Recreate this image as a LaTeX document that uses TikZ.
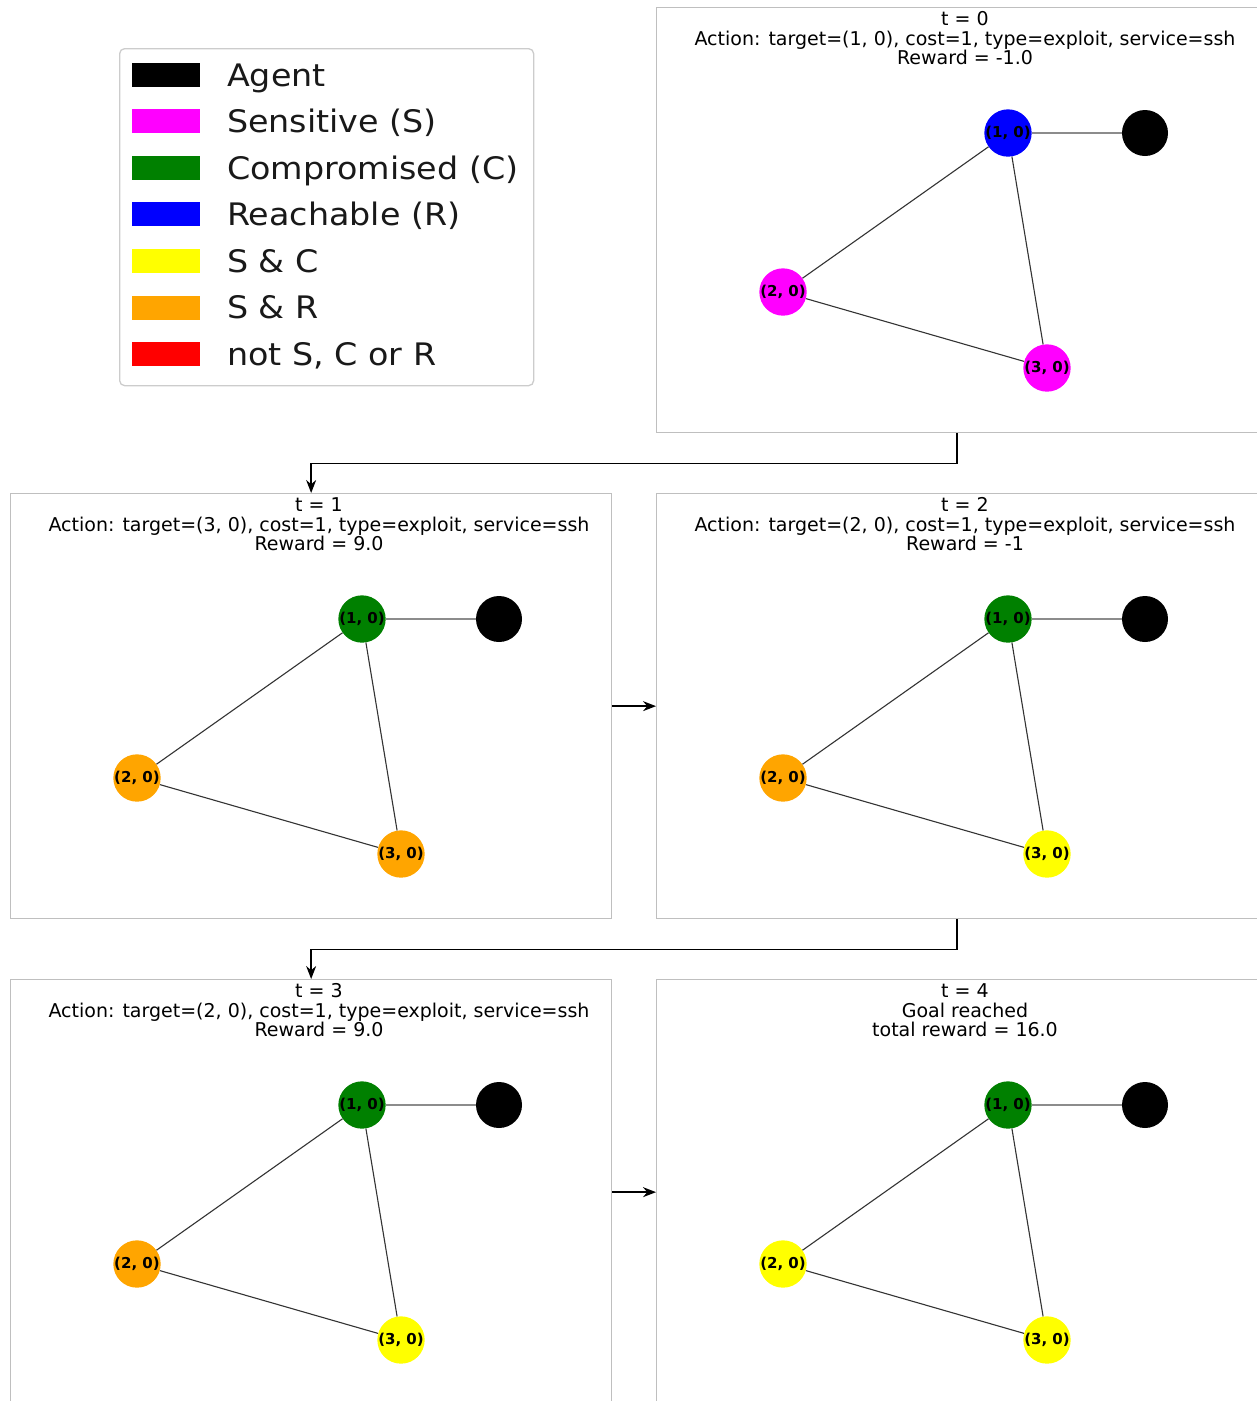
\documentclass[tikz,border=0pt]{standalone}
\usepackage{fontspec}
\setmainfont{DejaVu Sans}
\usetikzlibrary{arrows.meta}
\definecolor{mplgreen}{HTML}{008000}
\definecolor{mplorange}{HTML}{FFA500}
\definecolor{mplblue}{HTML}{0000FF}
\definecolor{mplmagenta}{HTML}{FF00FF}
\definecolor{mplyellow}{HTML}{FFFF00}
\definecolor{mplred}{HTML}{FF0000}
\tikzset{
  panelbox/.style={draw=black!25, line width=1.3pt, minimum width=601pt, minimum height=425pt, anchor=north west, inner sep=0pt},
  ttl/.style={anchor=base, inner sep=0pt, font=\fontsize{19}{19.5}\selectfont},
  host/.style={circle, draw=none, minimum size=46pt, inner sep=0pt, font=\fontsize{15}{15}\selectfont\bfseries, text=black},
  agentnode/.style={circle, fill=black, minimum size=46pt, inner sep=0pt},
  agentedge/.style={draw=black!45, line width=1.4pt},
  netedge/.style={draw=black!80, line width=1.1pt},
  flow/.style={draw=black, line width=1.4pt, -{Stealth[length=13pt,width=10pt]}},
  swatch/.style={rectangle, minimum width=68pt, minimum height=24pt, inner sep=0pt, draw=none},
  legtext/.style={anchor=base west, inner sep=0pt, font=\fontsize{31}{31}\selectfont, text=black!90},
}
\newcommand{\drawpanel}[9]{%
  \node[panelbox] (#1) at (#2,#3) {};
  \begin{scope}[shift={(#2,#3)}]
    \node[ttl] (#1a) at (309,18) {#4};
    \node[ttl] (#1b) at (309,38) {#5};
    \node[ttl] (#1c) at (309,57) {#6};
    \node[host, fill=#7] (#1h1) at (352,126) {(1, 0)};
    \node[agentnode] (#1ag) at (489,126) {};
    \node[host, fill=#8] (#1h2) at (127,285) {(2, 0)};
    \node[host, fill=#9] (#1h3) at (391,361) {(3, 0)};
    \draw[agentedge] (#1h1) -- (#1ag);
    \draw[netedge] (#1h1) -- (#1h2);
    \draw[netedge] (#1h1) -- (#1h3);
    \draw[netedge] (#1h2) -- (#1h3);
  \end{scope}}
\begin{document}
\begin{tikzpicture}[x=1pt,y=-1pt]
  \useasboundingbox[fill=white] (0,0) rectangle (1257,1401);
  % legend
  \node[draw=black!20, line width=1.3pt, rounded corners=5pt, minimum width=414pt, minimum height=337pt, anchor=north west, inner sep=0pt] (legend) at (119,48) {};
  \foreach \i/\c/\t in {0/black/Agent, 1/mplmagenta/Sensitive (S), 2/mplgreen/Compromised (C), 3/mplblue/Reachable (R), 4/mplyellow/S \& C, 5/mplorange/S \& R, 6/mplred/{not S, C or R}} {
    \node[swatch, fill=\c] (sw\i) at (166,74.8+46.55*\i) {};
    \node[legtext] (lt\i) at (227,74.8+46.55*\i+11.3) {\scalebox{1.075}[1]{\t}};
  }
  % panels
  \drawpanel{p0}{656}{7}{t = 0}{Action: target=(1, 0), cost=1, type=exploit, service=ssh}{Reward = -1.0}{mplblue}{mplmagenta}{mplmagenta}
  \drawpanel{p1}{10}{493}{t = 1}{Action: target=(3, 0), cost=1, type=exploit, service=ssh}{Reward = 9.0}{mplgreen}{mplorange}{mplorange}
  \drawpanel{p2}{656}{493}{t = 2}{Action: target=(2, 0), cost=1, type=exploit, service=ssh}{Reward = -1}{mplgreen}{mplorange}{mplyellow}
  \drawpanel{p3}{10}{979}{t = 3}{Action: target=(2, 0), cost=1, type=exploit, service=ssh}{Reward = 9.0}{mplgreen}{mplorange}{mplyellow}
  \drawpanel{p4}{656}{979}{t = 4}{Goal reached}{total reward = 16.0}{mplgreen}{mplyellow}{mplyellow}
  % flow arrows
  \draw[flow] (p0.south) -- ++(0,30) -| (p1.north);
  \draw[flow] (p1.east) -- (p2.west);
  \draw[flow] (p2.south) -- ++(0,30) -| (p3.north);
  \draw[flow] (p3.east) -- (p4.west);
\end{tikzpicture}
\end{document}
